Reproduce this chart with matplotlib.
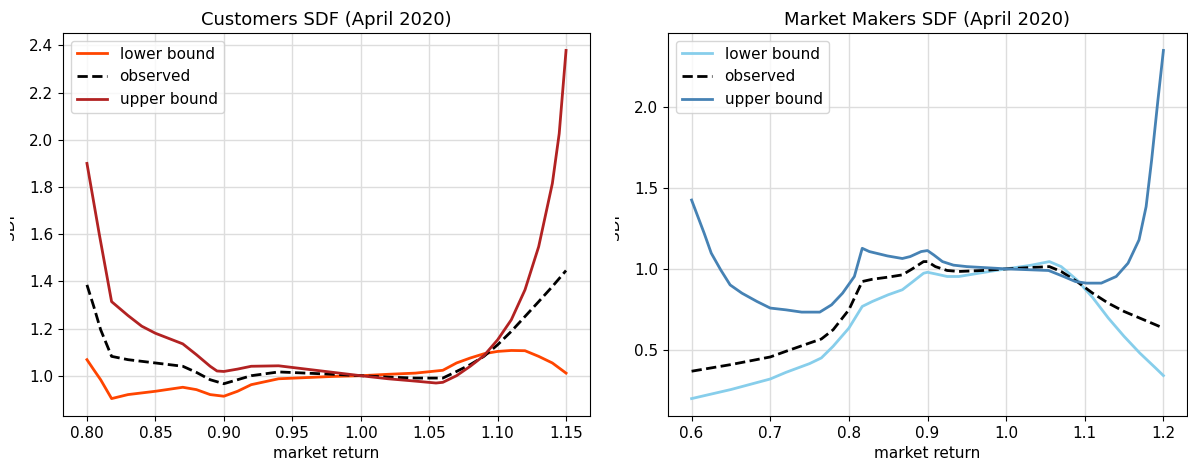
import matplotlib
matplotlib.use("Agg")
import matplotlib.pyplot as plt
from matplotlib.transforms import Bbox, TransformedBbox

# Customers SDF (April 2020)
cust_x_upper = [0.80, 0.809, 0.818, 0.83, 0.84, 0.85, 0.87, 0.88, 0.89, 0.895, 0.90,
                0.91, 0.92, 0.94, 0.96, 0.98, 1.00, 1.02, 1.04, 1.055, 1.06, 1.07,
                1.08, 1.09, 1.10, 1.11, 1.12, 1.13, 1.14, 1.145, 1.15]
cust_upper = [1.90, 1.60, 1.314, 1.255, 1.21, 1.18, 1.135, 1.089, 1.04, 1.02, 1.018,
              1.028, 1.04, 1.042, 1.028, 1.014, 1.0, 0.987, 0.977, 0.969, 0.972, 1.0,
              1.04, 1.085, 1.152, 1.237, 1.364, 1.547, 1.815, 2.026, 2.379]

cust_x = [0.80, 0.805, 0.81, 0.818, 0.83, 0.85, 0.87, 0.88, 0.89, 0.90, 0.91, 0.92,
          0.94, 0.96, 0.98, 1.00, 1.02, 1.04, 1.06, 1.07, 1.08, 1.09, 1.10, 1.11,
          1.12, 1.13, 1.14, 1.15]
cust_observed = [1.385, 1.293, 1.195, 1.082, 1.068, 1.054, 1.04, 1.014, 0.983, 0.966,
                 0.983, 1.0, 1.016, 1.011, 1.006, 1.0, 0.994, 0.99, 0.99, 1.018, 1.047,
                 1.082, 1.131, 1.188, 1.251, 1.314, 1.378, 1.446]
cust_lower = [1.068, 1.025, 0.983, 0.903, 0.92, 0.934, 0.951, 0.941, 0.92, 0.913,
              0.934, 0.962, 0.987, 0.992, 0.997, 1.0, 1.006, 1.011, 1.023, 1.054, 1.075,
              1.093, 1.103, 1.107, 1.106, 1.082, 1.054, 1.011]

# Market Makers SDF (April 2020)
mm_x_upper = [0.600, 0.616, 0.625, 0.637, 0.649, 0.664, 0.683, 0.700, 0.720, 0.740,
              0.763, 0.778, 0.792, 0.807, 0.817, 0.826, 0.849, 0.868, 0.878, 0.892,
              0.900, 0.908, 0.919, 0.933, 0.950, 1.000, 1.054, 1.073, 1.088, 1.102,
              1.121, 1.140, 1.155, 1.169, 1.178, 1.185, 1.193, 1.200]
mm_upper = [1.425, 1.22, 1.097, 0.994, 0.901, 0.85, 0.799, 0.758, 0.747, 0.733,
            0.733, 0.778, 0.85, 0.953, 1.127, 1.107, 1.08, 1.064, 1.076, 1.107,
            1.113, 1.086, 1.045, 1.023, 1.014, 1.0, 0.99, 0.953, 0.922, 0.912,
            0.912, 0.953, 1.035, 1.179, 1.384, 1.671, 2.041, 2.349]

mm_x = [0.60, 0.65, 0.70, 0.72, 0.75, 0.765, 0.78, 0.80, 0.817, 0.83, 0.85, 0.868,
        0.88, 0.895, 0.90, 0.91, 0.925, 0.94, 0.97, 1.00, 1.03, 1.055, 1.07, 1.09,
        1.11, 1.13, 1.15, 1.17, 1.19, 1.20]
mm_observed = [0.368, 0.409, 0.456, 0.491, 0.542, 0.567, 0.624, 0.747, 0.922, 0.936,
               0.949, 0.963, 0.998, 1.045, 1.045, 1.014, 0.99, 0.984, 0.99, 1.0,
               1.008, 1.014, 0.984, 0.922, 0.85, 0.788, 0.737, 0.696, 0.655, 0.634]
mm_lower = [0.199, 0.255, 0.32, 0.361, 0.415, 0.45, 0.522, 0.634, 0.768, 0.799,
            0.84, 0.871, 0.916, 0.973, 0.979, 0.969, 0.953, 0.953, 0.977, 1.0,
            1.021, 1.045, 1.014, 0.932, 0.823, 0.696, 0.583, 0.48, 0.388, 0.341]

plt.rcParams["font.size"] = 11

fig = plt.figure(figsize=(11.88, 4.65), dpi=100)
ax1 = fig.add_axes([63 / 1188, 49 / 465, 527 / 1188, 383 / 465])
ax2 = fig.add_axes([668 / 1188, 49 / 465, 519 / 1188, 383 / 465])

ax1.plot(cust_x, cust_lower, color="orangered", lw=2, label="lower bound")
ax1.plot(cust_x, cust_observed, color="black", lw=2, ls="--", label="observed")
ax1.plot(cust_x_upper, cust_upper, color="firebrick", lw=2, label="upper bound")
ax1.set_title("Customers SDF (April 2020)", fontsize=13)

ax2.plot(mm_x, mm_lower, color="skyblue", lw=2, label="lower bound")
ax2.plot(mm_x, mm_observed, color="black", lw=2, ls="--", label="observed")
ax2.plot(mm_x_upper, mm_upper, color="steelblue", lw=2, label="upper bound")
ax2.set_title("Market Makers SDF (April 2020)", fontsize=13)
ax2.set_xticks([0.6, 0.7, 0.8, 0.9, 1.0, 1.1, 1.2])
ax2.set_yticks([0.5, 1.0, 1.5, 2.0])

for ax, left in [(ax1, 63), (ax2, 668)]:
    ax.grid(True, color="#dddddd", lw=1)
    ax.set_axisbelow(True)
    ax.set_xlabel("market return")
    ax.set_ylabel("SDF", labelpad=8.5)
    ax.legend(loc="upper left")
    # the label is cut off on its left side in the original
    clip = Bbox([[(left - 53) / 1188, 0], [left / 1188, 1]])
    ax.yaxis.label.set_clip_box(TransformedBbox(clip, fig.transFigure))

fig.savefig("out.png", dpi=100)
